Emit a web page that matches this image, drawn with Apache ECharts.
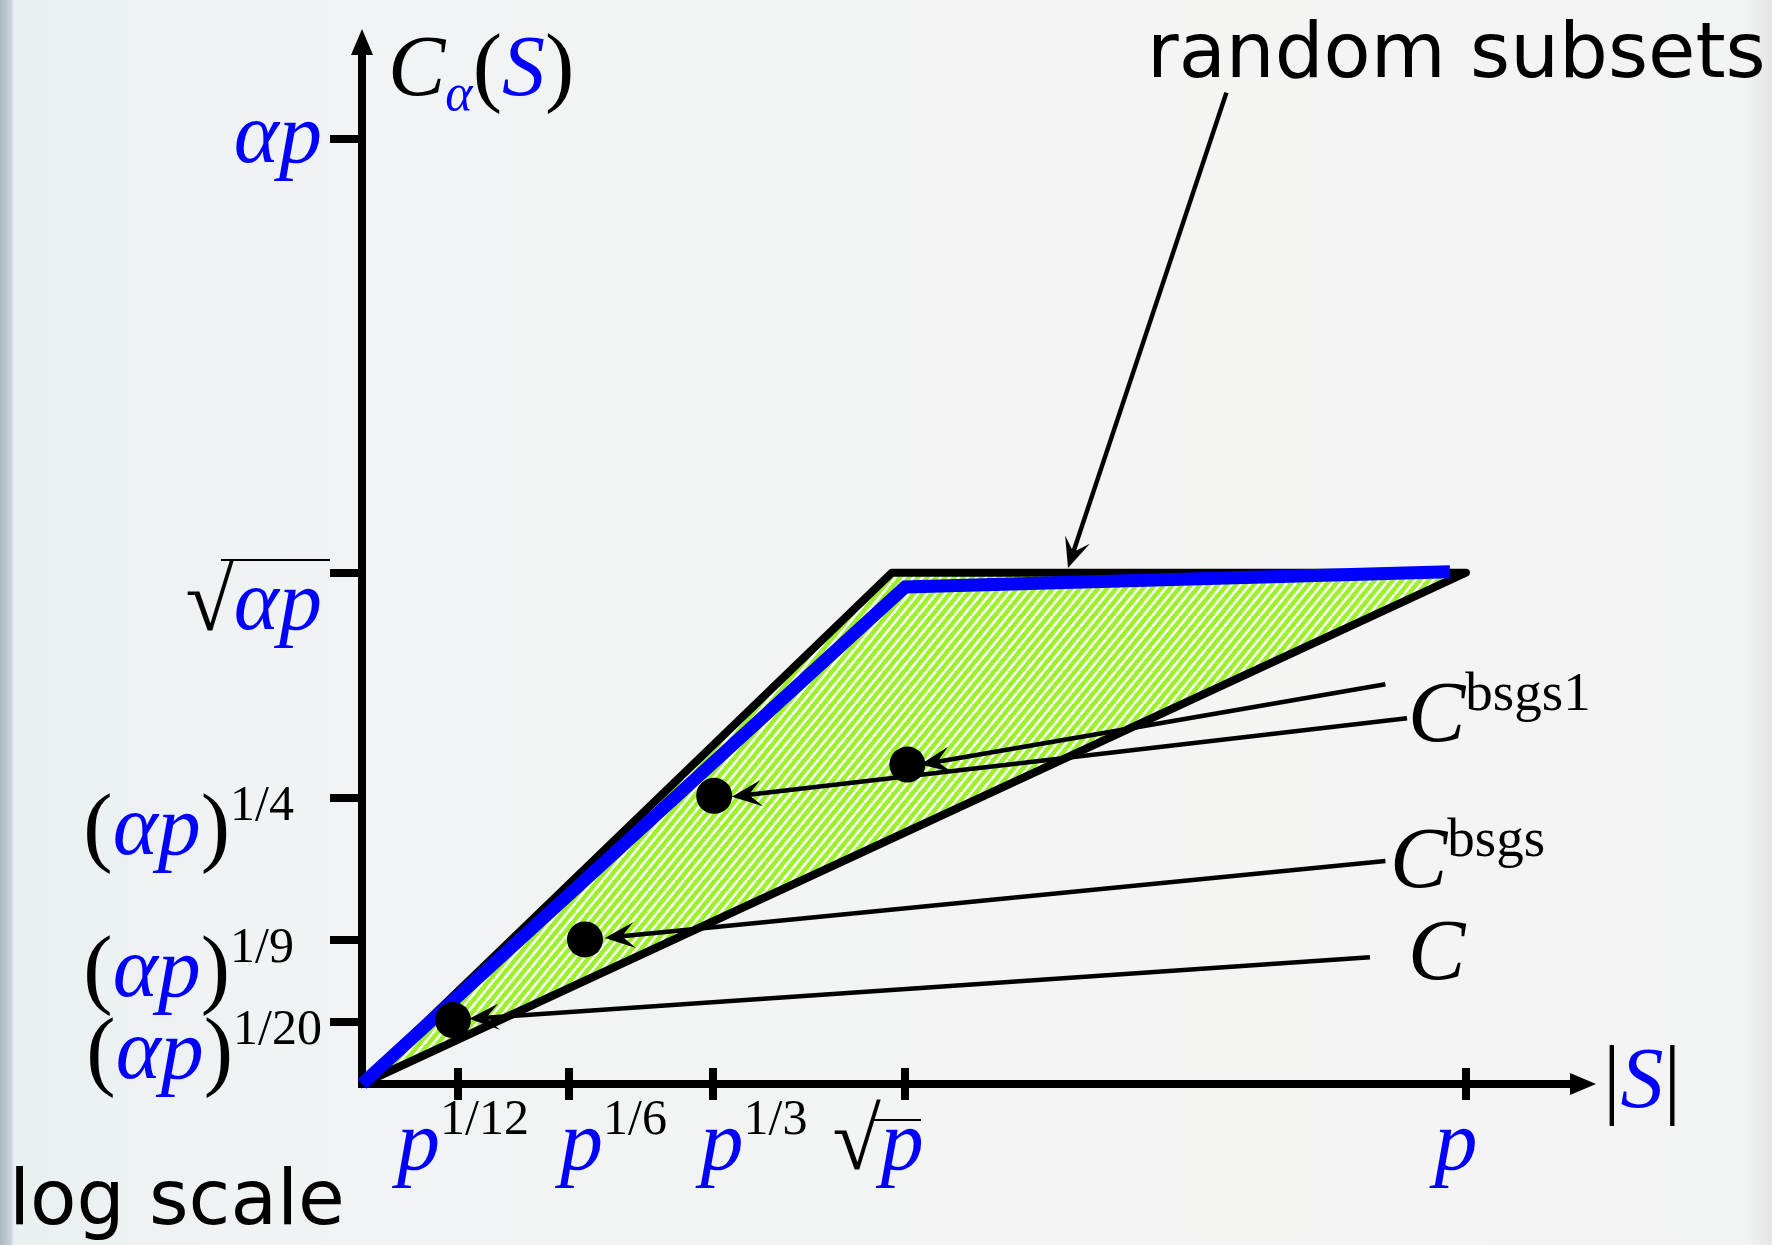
<!DOCTYPE html>
<html>
<head>
<meta charset="utf-8">
<script src="https://cdn.jsdelivr.net/npm/echarts@6/dist/echarts.min.js"></script>
<style>
  html, body { margin: 0; padding: 0; background: #f2f4f4; }
  #chart { width: 1772px; height: 1245px; }
</style>
</head>
<body>
<div id="chart"></div>
<script>
// Schematic log-log axes: positions are exponent-like units (p -> 1 on x, alpha*p -> 1 on y).
const xTickValues = [0.087, 0.187, 0.318, 0.492, 1.0];
const xTickBase   = ['p', 'p', 'p', '√p', 'p'];
const xTickExp    = ['1/12', '1/6', '1/3', '', ''];

const yTickValues = [0.066, 0.153, 0.303, 0.541, 1.0];
const yTickBase   = ['(αp)', '(αp)', '(αp)', '√αp', 'αp'];
const yTickExp    = ['1/20', '1/9', '1/4', '', ''];

// Feasible region (hatched): upper bound corner and right tip, lower bound straight back.
const regionX = [0, 0.480, 1.0];
const regionY = [0, 0.541, 0.541];

// Black outline of the region.
const boundX = [0, 0.480, 1.0, 0];
const boundY = [0, 0.541, 0.541, 0];

// Random subsets curve.
const randomX = [0, 0.492, 0.9855];
const randomY = [0, 0.526, 0.542];

// Constructions (black points).
const pointX = [0.0824, 0.202, 0.319, 0.494];
const pointY = [0.0677, 0.153, 0.305, 0.338];

// Annotation arrows: start -> tip.
const arrowFromX = [0.913, 0.927, 0.9466, 0.927, 0.783];
const arrowFromY = [0.134, 0.236, 0.387, 0.423, 1.049];
const arrowToX   = [0.097, 0.220, 0.335, 0.506, 0.6395];
const arrowToY   = [0.069, 0.1545, 0.304, 0.338, 0.546];

// ---------------------------------------------------------------------------
const SERIF = 'Liberation Serif';
const BLUE = '#0000ff';
const GREEN = '#9cf02c';

// horizontal nudges of the x tick labels (px) relative to their ticks
const xLabelShift = [5, 45, 41, -27, -10];
// extra room kept on the right of y tick labels (px), so the bracketed ones line up on the left
const yLabelPadRight = [0, 28, 28, 0, 0];

// Labels are spread over two axes each, so that neighbouring labels never collide.
const pick = function (arr, idx) { return idx.map(function (i) { return arr[i]; }); };
const xLabelsA = pick(xTickValues, [0, 2, 4]);
const xLabelsB = pick(xTickValues, [1, 3]);
const yLabelsA = pick(yTickValues, [0, 2, 4]);
const yLabelsB = pick(yTickValues, [1, 3]);

function stripePattern() {
  const w = 9, h = 11;
  const c = document.createElement('canvas');
  c.width = w; c.height = h;
  const g = c.getContext('2d');
  g.fillStyle = GREEN;
  g.fillRect(0, 0, w, h);
  g.strokeStyle = '#ffffff';
  g.lineWidth = 2.6;
  [-w, 0, w].forEach(function (dx) {
    g.beginPath();
    g.moveTo(dx, h);
    g.lineTo(dx + w, 0);
    g.stroke();
  });
  return c;
}

function nearestIndex(values, v) {
  let best = 0;
  values.forEach(function (t, i) {
    if (Math.abs(t - v) < Math.abs(values[best] - v)) best = i;
  });
  return best;
}

// rich-text pieces: blue italic variables, black upright symbols, superscripts
function mathTokens(str) {
  let out = '';
  for (const ch of str) {
    if (ch === 'α' || ch === 'p' || ch === 'S') out += '{v|' + ch + '}';
    else out += '{n|' + ch + '}';
  }
  return out;
}

const mathRich = {
  v: { fontFamily: SERIF, fontStyle: 'italic', fontSize: 86, color: BLUE, lineHeight: 100 },
  n: { fontFamily: SERIF, fontSize: 88, color: '#000', lineHeight: 100 },
  s: { fontFamily: SERIF, fontSize: 50, color: '#000', verticalAlign: 'top', lineHeight: 74 },
  gap: { fontSize: 10, lineHeight: 68 }
};

const xRich = Object.assign({}, mathRich);
xLabelShift.forEach(function (s, i) {
  xRich['sp' + i] = { width: Math.max(1, 2 * Math.abs(s)), fontSize: 10 };
});
const yRich = Object.assign({}, mathRich);
yLabelPadRight.forEach(function (s, i) {
  yRich['pr' + i] = { width: Math.max(1, s), fontSize: 10 };
});

function xLabel(value) {
  const i = nearestIndex(xTickValues, value);
  let body = mathTokens(xTickBase[i]);
  if (xTickExp[i]) body += '{s|' + xTickExp[i] + '}';
  const sp = '{sp' + i + '| }';
  return xLabelShift[i] >= 0 ? sp + body : body + sp;
}

function yLabel(value) {
  const i = nearestIndex(yTickValues, value);
  let body = mathTokens(yTickBase[i]);
  if (yTickExp[i]) body += '{s|' + yTickExp[i] + '}';
  if (yLabelPadRight[i]) body += '{pr' + i + '| }';
  return (i < 4 ? '{gap| }\n' : '') + body;
}

const chart = echarts.init(document.getElementById('chart'));
const pattern = stripePattern();

function arrowHead(tip, from, len, half, notch) {
  const dx = from[0] - tip[0], dy = from[1] - tip[1];
  const d = Math.sqrt(dx * dx + dy * dy);
  const ux = dx / d, uy = dy / d, nx = -uy, ny = ux;
  return [
    [tip[0], tip[1]],
    [tip[0] + ux * len + nx * half, tip[1] + uy * len + ny * half],
    [tip[0] + ux * notch, tip[1] + uy * notch],
    [tip[0] + ux * len - nx * half, tip[1] + uy * len - ny * half]
  ];
}

const supRich = {
  c: { fontFamily: SERIF, fontStyle: 'italic', fontSize: 86, fill: '#000', lineHeight: 100 },
  s: { fontFamily: SERIF, fontSize: 55, fill: '#000', verticalAlign: 'top', lineHeight: 70 }
};

const X_MAX = 1.106, Y_MAX = 1.1026;
const axisBlack = { color: '#000', width: 8, cap: 'square' };
const tickStyle = { color: '#000', width: 8 };

const option = {
  animation: false,
  backgroundColor: {
    type: 'linear', x: 0, y: 0, x2: 1, y2: 0,
    colorStops: [
      { offset: 0, color: '#aab6c0' },
      { offset: 0.006, color: '#c9d2d8' },
      { offset: 0.008, color: '#eaeff1' },
      { offset: 0.15, color: '#f0f3f4' },
      { offset: 0.7, color: '#f4f4f3' },
      { offset: 0.985, color: '#f2f3f3' },
      { offset: 1, color: '#e2e6e7' }
    ]
  },
  grid: { left: 362, right: 189, top: 42, bottom: 161, containLabel: false },
  xAxis: [
    {
      type: 'value', min: 0, max: X_MAX, position: 'bottom',
      axisLine: { show: true, symbol: ['none', 'triangle'], symbolSize: [22, 26], lineStyle: axisBlack },
      axisTick: { show: true, customValues: xTickValues, length: 16, inside: false, lineStyle: tickStyle },
      axisLabel: { show: true, customValues: xLabelsA, formatter: xLabel, rich: xRich,
                   margin: 12, hideOverlap: false, showMinLabel: true, showMaxLabel: true },
      splitLine: { show: false },
      name: '{n||}{v|S}{n||}',
      nameLocation: 'end', nameGap: 20,
      nameTextStyle: { rich: mathRich, align: 'left', verticalAlign: 'middle' }
    },
    {
      type: 'value', min: 0, max: X_MAX, position: 'bottom', gridIndex: 0,
      axisLine: { show: false },
      axisTick: { show: true, customValues: xTickValues, length: 16, inside: true, lineStyle: tickStyle },
      axisLabel: { show: true, customValues: xLabelsB, formatter: xLabel, rich: xRich,
                   margin: 12, hideOverlap: false, showMinLabel: true, showMaxLabel: true },
      splitLine: { show: false }
    }
  ],
  yAxis: [
    {
      type: 'value', min: 0, max: Y_MAX, position: 'left',
      axisLine: { show: true, symbol: ['none', 'triangle'], symbolSize: [22, 26], lineStyle: axisBlack },
      axisTick: { show: true, customValues: yTickValues, length: 32, lineStyle: tickStyle },
      axisLabel: { show: true, customValues: yLabelsA, formatter: yLabel, rich: yRich,
                   margin: 40, hideOverlap: false, showMinLabel: true, showMaxLabel: true },
      splitLine: { show: false },
      name: '{c|C}{sub|α}{n|(}{v|S}{n|)}',
      nameLocation: 'end', nameGap: 20,
      nameTextStyle: {
        align: 'left', verticalAlign: 'top', padding: [0, 0, 0, 26],
        rich: Object.assign({
          c: { fontFamily: SERIF, fontStyle: 'italic', fontSize: 86, color: '#000', lineHeight: 100 },
          sub: { fontFamily: SERIF, fontStyle: 'italic', fontSize: 52, color: BLUE,
                 verticalAlign: 'bottom', lineHeight: 46 }
        }, mathRich)
      }
    },
    {
      type: 'value', min: 0, max: Y_MAX, position: 'left', gridIndex: 0,
      axisLine: { show: false },
      axisTick: { show: false },
      axisLabel: { show: true, customValues: yLabelsB, formatter: yLabel, rich: yRich,
                   margin: 40, hideOverlap: false, showMinLabel: true, showMaxLabel: true },
      splitLine: { show: false }
    }
  ],
  series: [
    {
      name: 'region', type: 'custom', z: 1, clip: false,
      data: [[0, 0]],
      renderItem: function (params, api) {
        const pts = regionX.map(function (x, i) { return api.coord([x, regionY[i]]); });
        return { type: 'polygon', shape: { points: pts },
                 style: { fill: { image: pattern, repeat: 'repeat' } } };
      }
    },
    {
      name: 'bounds', type: 'line', z: 2, clip: false, symbol: 'none', silent: true,
      data: boundX.map(function (x, i) { return [x, boundY[i]]; }),
      lineStyle: { color: '#000', width: 8, cap: 'round', join: 'round' }
    },
    {
      name: 'random subsets', type: 'line', z: 3, clip: false, symbol: 'none', silent: true,
      data: randomX.map(function (x, i) { return [x, randomY[i]]; }),
      lineStyle: { color: BLUE, width: 13, cap: 'butt', join: 'miter' }
    },
    {
      name: 'annotations', type: 'custom', z: 4, clip: false,
      data: arrowFromX.map(function (x, i) { return [x, arrowFromY[i], arrowToX[i], arrowToY[i]]; }),
      encode: { x: [0, 2], y: [1, 3] },
      renderItem: function (params, api) {
        const a = api.coord([api.value(0), api.value(1)]);
        const b = api.coord([api.value(2), api.value(3)]);
        const head = arrowHead(b, a, 30, 13, 17);
        const neck = head[2];
        return {
          type: 'group',
          children: [
            { type: 'line', shape: { x1: a[0], y1: a[1], x2: neck[0], y2: neck[1] },
              style: { stroke: '#000', lineWidth: 4.5 } },
            { type: 'polygon', shape: { points: head }, style: { fill: '#000' } }
          ]
        };
      }
    },
    {
      name: 'constructions', type: 'scatter', z: 5, clip: false,
      data: pointX.map(function (x, i) { return [x, pointY[i]]; }),
      symbol: 'circle', symbolSize: 36,
      itemStyle: { color: '#000', opacity: 1 }
    }
  ],
  graphic: [
    { type: 'text', x: 1147, y: 57, z: 10,
      style: { text: 'random subsets', font: 'normal 77px "DejaVu Sans"', fill: '#000',
               verticalAlign: 'middle', align: 'left' } },
    { type: 'text', x: 9, y: 1204, z: 10,
      style: { text: 'log scale', font: 'normal 76px "DejaVu Sans"', fill: '#000',
               verticalAlign: 'middle', align: 'left' } },
    { type: 'text', x: 1408, y: 718, z: 10,
      style: { text: '{c|C}{s|bsgs1}', verticalAlign: 'middle', align: 'left', rich: supRich } },
    { type: 'text', x: 1390, y: 864, z: 10,
      style: { text: '{c|C}{s|bsgs}', verticalAlign: 'middle', align: 'left', rich: supRich } },
    { type: 'text', x: 1408, y: 956, z: 10,
      style: { text: 'C', font: 'italic 86px "Liberation Serif"', fill: '#000',
               verticalAlign: 'middle', align: 'left' } },
    // vincula of the radical signs
    { type: 'line', z: 10, shape: { x1: 221, y1: 560, x2: 330, y2: 560 },
      style: { stroke: '#000', lineWidth: 2 } },
    { type: 'line', z: 10, shape: { x1: 871, y1: 1120, x2: 921, y2: 1120 },
      style: { stroke: '#000', lineWidth: 2 } }
  ]
};

chart.setOption(option);
</script>
</body>
</html>
